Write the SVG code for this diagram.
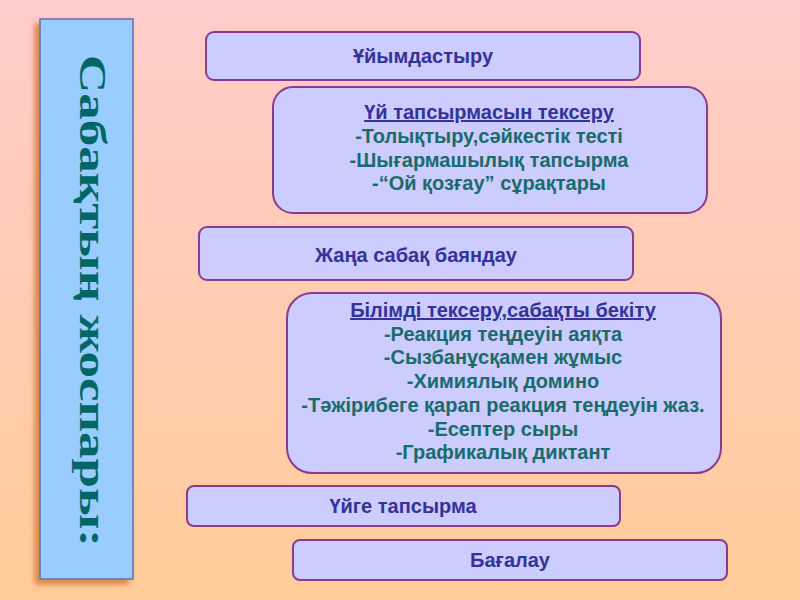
<svg xmlns="http://www.w3.org/2000/svg" width="800" height="600" viewBox="0 0 800 600">
  <defs>
    <linearGradient id="bg" x1="0" y1="0" x2="0" y2="1">
      <stop offset="0" stop-color="#FFCCCC"/>
      <stop offset="1" stop-color="#FFCC99"/>
    </linearGradient>
    <filter id="shadow" x="-30%" y="-10%" width="160%" height="120%">
      <feGaussianBlur in="SourceAlpha" stdDeviation="2.5"/>
      <feOffset dx="-5" dy="5" result="b"/>
      <feFlood flood-color="#D9823F" flood-opacity="0.9"/>
      <feComposite in2="b" operator="in"/>
      <feMerge><feMergeNode/><feMergeNode in="SourceGraphic"/></feMerge>
    </filter>
  </defs>
  <style>
    .box { fill: #CCCCFF; stroke: #8B3A8F; stroke-width: 2; }
    .t { font-family: "Liberation Sans", Arial, sans-serif; font-weight: bold; font-size: 20px; text-anchor: middle; }
    .h { fill: #333399; }
    .i { fill: #1A6B6B; }
    .u { text-decoration: underline; }
    .side { font-family: "Liberation Serif", "Times New Roman", serif; font-weight: bold; font-size: 38px; fill: #006666; }
  </style>
  <rect x="0" y="0" width="800" height="600" fill="url(#bg)"/>

  <g id="title-bar">
    <rect x="40" y="19" width="93" height="560" fill="#99CCFF" stroke="#6A6AB0" stroke-width="1.5" filter="url(#shadow)"/>
    <g transform="translate(80,55) rotate(90) scale(2,1)">
      <text class="side" x="0" y="0" textLength="246" lengthAdjust="spacingAndGlyphs">Сабақтың жоспары:</text>
    </g>
  </g>

  <g id="connectors"></g>

  <g id="node-1">
    <rect class="box" x="206" y="32" width="434" height="48" rx="8"/>
    <text class="t h" x="423" y="63">Ұйымдастыру</text>
  </g>

  <g id="node-2">
    <rect class="box" x="273" y="87" width="434" height="126" rx="20"/>
    <text class="t h u" x="489" y="119">Үй тапсырмасын тексеру</text>
    <text class="t i" x="489" y="143">-Толықтыру,сәйкестік тесті</text>
    <text class="t i" x="489" y="167">-Шығармашылық тапсырма</text>
    <text class="t i" x="489" y="190">-“Ой қозғау” сұрақтары</text>
  </g>

  <g id="node-3">
    <rect class="box" x="199" y="227" width="434" height="53" rx="8"/>
    <text class="t h" x="416" y="262">Жаңа сабақ баяндау</text>
  </g>

  <g id="node-4">
    <rect class="box" x="287" y="293" width="434" height="180" rx="25"/>
    <text class="t h u" x="503" y="317">Білімді тексеру,сабақты бекіту</text>
    <text class="t i" x="503" y="341">-Реакция теңдеуін аяқта</text>
    <text class="t i" x="503" y="364">-Сызбанұсқамен жұмыс</text>
    <text class="t i" x="503" y="388">-Химиялық домино</text>
    <text class="t i" x="503" y="412">-Тәжірибеге қарап реакция теңдеуін жаз.</text>
    <text class="t i" x="503" y="436">-Есептер сыры</text>
    <text class="t i" x="503" y="459">-Графикалық диктант</text>
  </g>

  <g id="node-5">
    <rect class="box" x="187" y="486" width="433" height="40" rx="7"/>
    <text class="t h" x="403" y="513">Үйге тапсырма</text>
  </g>

  <g id="node-6">
    <rect class="box" x="293" y="540" width="434" height="40" rx="7"/>
    <text class="t h" x="510" y="567">Бағалау</text>
  </g>
</svg>
